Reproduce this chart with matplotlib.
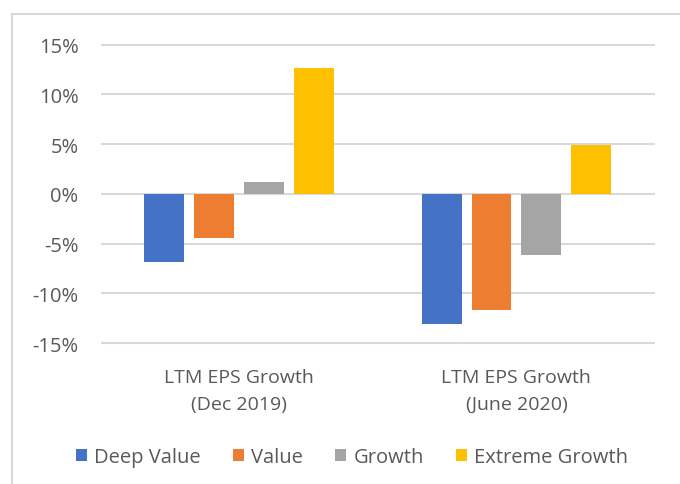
import matplotlib.pyplot as plt
import numpy as np
from matplotlib.lines import Line2D
from matplotlib.patches import Patch

# LTM EPS growth by style bucket (%)
categories = ["LTM EPS Growth\n(Dec 2019)", "LTM EPS Growth\n(June 2020)"]
series = ["Deep Value", "Value", "Growth", "Extreme Growth"]
deep_value = [-6.9, -13.1]
value = [-4.4, -11.7]
growth = [1.2, -6.1]
extreme_growth = [12.7, 4.9]
yticks = [-15, -10, -5, 0, 5, 10, 15]

colors = ["#4472C4", "#ED7D31", "#A5A5A5", "#FFC000"]
text_gray = "#595959"
grid_gray = "#D9D9D9"

plt.rcParams['font.family'] = ['Open Sans', 'DejaVu Sans']

fig = plt.figure(figsize=(6.8, 4.85), dpi=100)
W, H = 680, 485
# axes placed in pixel terms
x0, x1 = 100.7, 655
y_top, y_bot = 42.7, 347.0
ax = fig.add_axes([x0 / W, 1 - y_bot / H, (x1 - x0) / W, (y_bot - y_top) / H])

x = np.arange(len(categories))
step = 0.18
width = 0.144
for i, (vals, c) in enumerate(zip([deep_value, value, growth, extreme_growth], colors)):
    ax.bar(x + (i - 1.5) * step, vals, width, color=c, zorder=3)

ax.set_xlim(-0.5, 1.5)
ax.set_ylim(-15.3, 15.3)
for t in yticks:
    ax.axhline(t, color=grid_gray, lw=1.5, zorder=1)
ax.set_yticks(yticks)
ax.set_yticklabels([f"{t}%" for t in yticks])
ax.set_xticks(x)
ax.set_xticklabels(categories, linespacing=1.6)
ax.tick_params(axis='y', length=0, pad=16, labelsize=14.5, labelcolor=text_gray)
ax.tick_params(axis='x', length=0, pad=16, labelsize=14, labelcolor=text_gray)
for s in ax.spines.values():
    s.set_visible(False)

# chart frame (top and left edges)
fig.add_artist(Line2D([12 / W, 1], [1 - 15 / H, 1 - 15 / H], color="#D9D9D9", lw=1.5))
fig.add_artist(Line2D([12 / W, 12 / W], [1 - 15 / H, 0], color="#D9D9D9", lw=1.5))

handles = [Patch(facecolor=c, label=s) for s, c in zip(series, colors)]
fig.legend(handles=handles, loc='center', bbox_to_anchor=(352 / W, 1 - 458 / H),
           ncol=4, frameon=False, fontsize=14.5, labelcolor=text_gray,
           handlelength=0.55, handleheight=0.55, handletextpad=0.35, columnspacing=1.6)

fig.savefig("out.png", dpi=100)
